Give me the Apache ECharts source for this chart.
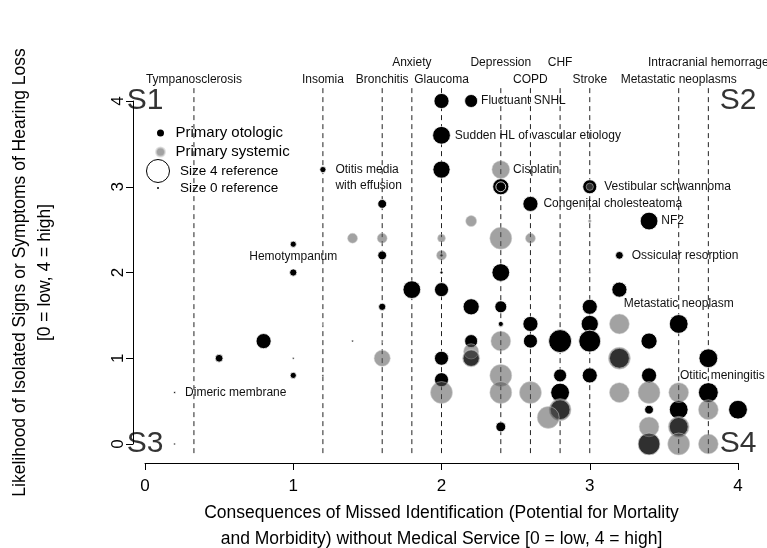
<!DOCTYPE html>
<html><head><meta charset="utf-8">
<script src="https://cdn.jsdelivr.net/npm/echarts@6/dist/echarts.min.js"></script>
<style>html,body{margin:0;padding:0;background:#fff}#c{width:767px;height:548px}</style>
</head><body><div id="c"></div>
<script>
// [x, y, size(0-4), label]
const otologicPoints = [
  [2.0,4.0,2.5],[2.2,4.0,2.1,'Fluctuant SNHL'],[2.0,3.6,3.0,'Sudden HL of vascular etiology'],
  [2.0,3.2,2.9],[2.4,3.0,2.7],[2.4,3.0,1.5],[3.0,3.0,2.3,'Vestibular schwannoma'],
  [2.6,2.8,2.5,'Congenital cholesteatoma'],[1.6,2.8,1.3],[1.2,3.2,0.8,'Otitis media\nwith effusion'],
  [3.4,2.6,3.0,'NF2'],[1.0,2.33,0.8,'Hemotympanum'],[1.6,2.2,1.3],[2.0,2.2,0.2],
  [3.2,2.2,1.1,'Ossicular resorption'],[1.0,2.0,1.0],[2.0,2.0,0.2],[2.4,2.0,3.0],
  [1.8,1.8,3.0],[2.0,1.8,2.3],[3.2,1.8,2.5],[1.6,1.6,1.0],[2.2,1.6,2.7],[2.4,1.6,1.9],
  [3.0,1.6,2.5],[2.4,1.4,0.6],[2.6,1.4,2.5],[3.0,1.4,2.9],[3.6,1.4,3.2,'Metastatic neoplasm'],
  [1.2,1.4,0],[0.8,1.2,2.5],[1.4,1.2,0],[1.6,1.2,0],[2.2,1.2,2.1],[2.6,1.2,2.3],
  [2.8,1.2,4.0],[3.0,1.2,3.8],[3.4,1.2,2.7],[0.5,1.0,1.1],[1.0,1.0,0],[2.0,1.0,2.3],
  [2.2,1.0,2.7],[3.2,1.0,3.4],[3.8,1.0,3.2,'Otitic meningitis'],[1.0,0.8,0.8],[1.2,0.8,0],
  [2.0,0.75,2.3],[2.8,0.8,2.1],[3.0,0.8,2.5],[3.4,0.8,2.5],[2.8,0.6,3.2],
  [3.8,0.6,3.4],[2.8,0.4,3.4],[3.4,0.4,1.3],[3.6,0.4,3.2],[4.0,0.4,3.2],[2.4,0.2,1.5],
  [3.6,0.2,3.2],[3.4,0.0,3.8],[0.2,0.6,0,'Dimeric membrane'],[0.2,0.0,0]
];
const systemicPoints = [
  [2.4,3.2,3.0,'Cisplatin'],[3.0,3.0,1.0],[2.2,2.6,1.7],[3.0,2.6,0.2],[1.4,2.4,1.5],
  [1.6,2.4,1.5],[2.0,2.4,1.1],[2.4,2.4,3.8],[2.6,2.4,1.5],[2.0,2.2,1.5],[3.0,2.0,0],
  [3.2,1.4,3.4],[2.4,1.2,3.4],[2.2,1.08,2.5],[1.6,1.0,2.7],[2.2,1.0,2.9],[3.2,1.0,3.8],
  [2.4,0.8,3.8],[2.0,0.6,3.8],[2.4,0.6,3.8],[2.6,0.6,3.8],[3.2,0.6,3.4],[3.4,0.6,3.8],
  [3.6,0.6,3.4],[2.8,0.4,3.8],[3.8,0.4,3.4],[2.72,0.31,3.8],[3.4,0.2,3.4],[3.6,0.2,3.6],
  [3.4,0.0,3.8],[3.6,0.0,3.8],[3.8,0.0,3.4]
];
const conditionNames = ['Tympanosclerosis','Insomia','Bronchitis','Anxiety','Glaucoma','Depression','COPD','CHF','Stroke','Metastatic neoplasms','Intracranial hemorrage'];
const conditionX     = [0.33,1.2,1.6,1.8,2.0,2.4,2.6,2.8,3.0,3.6,3.8];
const conditionRow   = [0,0,0,1,0,1,0,1,0,0,1];
const quadNames = ['S1','S2','S3','S4'];
const quadX = [0,4,0,4];
const quadY = [4,4,0,0];
const xTicks = [0,1,2,3,4];
const yTicks = [0,1,2,3,4];

const FONT = '"Liberation Sans", Arial, Helvetica, sans-serif';
const labelPlace = {
  'Fluctuant SNHL':{position:'right',distance:3},
  'Sudden HL of vascular etiology':{position:'right',distance:4},
  'Cisplatin':{position:'right',distance:3},
  'Vestibular schwannoma':{position:'right',distance:7},
  'Congenital cholesteatoma':{position:'right',distance:5},
  'NF2':{position:'right',distance:3},
  'Ossicular resorption':{position:'right',distance:8},
  'Metastatic neoplasm':{position:'top',distance:4},
  'Otitic meningitis':{position:'bottom',distance:2,offset:[14,0]},
  'Otitis media\nwith effusion':{position:'right',distance:9,offset:[0,8],lineHeight:16},
  'Hemotympanum':{position:'bottom',distance:3},
  'Dimeric membrane':{position:'right',distance:9}
};
function build(points){
  return points.map(p=>{
    const o = {value:[p[0],p[1],p[2]]};
    if (p[3]) {
      const pl = labelPlace[p[3]] || {position:'right'};
      o.label = Object.assign({show:true, formatter:p[3], color:'#111', fontSize:12, fontFamily:FONT,
        textBorderWidth:0, opacity:1}, pl);
    }
    return o;
  });
}
const sizeFn = v => 2 + 5.25*v[2];

const chart = echarts.init(document.getElementById('c'), null, {renderer:'canvas'});
chart.setOption({
  animation:false,
  backgroundColor:'#fff',
  textStyle:{fontFamily:FONT},
  grid:{left:145, right:29, top:101, bottom:104, containLabel:false, outerBoundsMode:'none'},
  xAxis:{type:'value', min:xTicks[0], max:xTicks[xTicks.length-1], interval:1, offset:19,
    splitLine:{show:false},
    axisLine:{show:true, onZero:false, lineStyle:{color:'#000', width:1}},
    axisTick:{show:true, length:7, lineStyle:{color:'#000'}},
    axisLabel:{fontSize:17, color:'#000', margin:15, fontFamily:FONT},
    name:'Consequences of Missed Identification (Potential for Mortality\nand Morbidity) without Medical Service [0 = low, 4 = high]',
    nameLocation:'middle', nameGap:36,
    nameTextStyle:{fontSize:17.5, lineHeight:26, color:'#000', fontFamily:FONT}
  },
  yAxis:{type:'value', min:yTicks[0], max:yTicks[yTicks.length-1], interval:1, offset:12,
    splitLine:{show:false},
    axisLine:{show:true, onZero:false, lineStyle:{color:'#000', width:1}},
    axisTick:{show:true, length:7, lineStyle:{color:'#000'}},
    axisLabel:{fontSize:17, color:'#000', margin:6, rotate:90, fontFamily:FONT},
    name:'Likelihood of Isolated Signs or Symptoms of Hearing Loss\n[0 = low, 4 = high]',
    nameLocation:'middle', nameGap:75, nameRotate:90,
    nameTextStyle:{fontSize:17.5, lineHeight:25, color:'#000', fontFamily:FONT}
  },
  legend:{data:['Primary otologic','Primary systemic'], orient:'vertical', left:150, top:119,
    icon:'circle', itemWidth:20, itemHeight:9, itemGap:1, selectedMode:false,
    textStyle:{fontSize:15, color:'#000', lineHeight:18, fontFamily:FONT}},
  graphic:[
    {type:'circle', shape:{cx:158, cy:171, r:11.5}, style:{fill:'none', stroke:'#000', lineWidth:1}},
    {type:'text', x:180, y:171, style:{text:'Size 4 reference', fontSize:13.5, fontFamily:FONT, fill:'#000', verticalAlign:'middle'}},
    {type:'circle', shape:{cx:158, cy:188, r:1}, style:{fill:'#000'}},
    {type:'text', x:180, y:188, style:{text:'Size 0 reference', fontSize:13.5, fontFamily:FONT, fill:'#000', verticalAlign:'middle'}}
  ],
  series:[
    {type:'custom', name:'conditions', silent:true, clip:false, z:1,
      data: conditionX.map(x=>[x,0]),
      renderItem(params, api){
        const i = params.dataIndex;
        const x = api.value(0);
        const top = api.coord([x, 4.15]);
        const bot = api.coord([x, -0.15]);
        return {type:'group', children:[
          {type:'line', shape:{x1:top[0], y1:top[1], x2:bot[0], y2:bot[1]},
            style:{stroke:'#222', lineWidth:1, lineDash:[5,4]}},
          {type:'text', style:{text:conditionNames[i], x:top[0], y: top[1] - (conditionRow[i] ? 25 : 8),
            align:'center', verticalAlign:'middle', fontSize:12, fontFamily:FONT, fill:'#111'}}
        ]};
      }
    },
    {type:'scatter', name:'Primary otologic', z:3, clip:false,
      symbolSize:sizeFn,
      itemStyle:{color:'#000', borderColor:'#fff', borderWidth:0.8, opacity:1},
      data: build(otologicPoints)
    },
    {type:'scatter', name:'Primary systemic', z:4, clip:false,
      symbolSize:sizeFn,
      itemStyle:{color:'rgba(87,87,87,0.69)', borderColor:'rgba(210,210,210,0.8)', borderWidth:0.8},
      data: build(systemicPoints)
    },
    {type:'scatter', name:'quadrants', z:5, clip:false, silent:true, symbolSize:0,
      data: quadNames.map((n,i)=>({value:[quadX[i], quadY[i]], name:n})),
      label:{show:true, position:'inside', formatter:'{b}', fontSize:30, color:'#000', fontFamily:FONT}
    }
  ]
});
</script>
</body></html>
